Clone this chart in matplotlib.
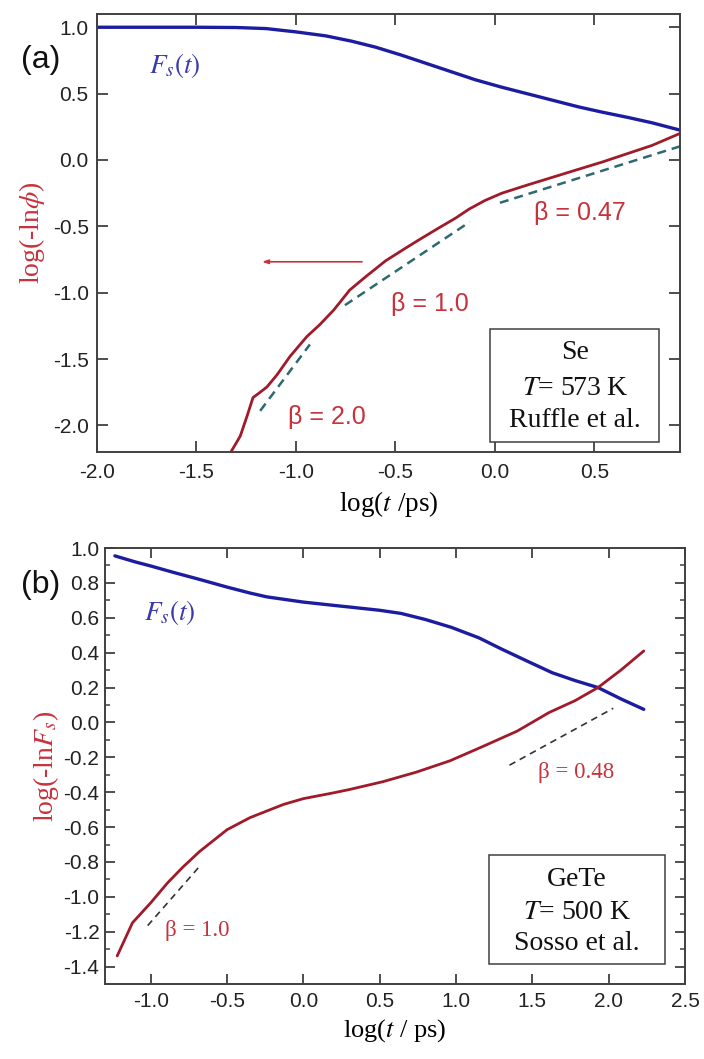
import numpy as np
import matplotlib
matplotlib.use("Agg")
import matplotlib.pyplot as plt
from matplotlib.patches import Rectangle

plt.rcParams["font.family"] = ["Liberation Sans", "DejaVu Sans"]
plt.rcParams["mathtext.fontset"] = "stix"

# ---------------- panel (a): Se, T = 573 K ----------------
a_fs_x = [-2.0, -1.75, -1.5, -1.3, -1.15, -1.0, -0.85, -0.72, -0.6, -0.47, -0.35,
          -0.22, -0.1, 0.03, 0.16, 0.29, 0.42, 0.54, 0.67, 0.79, 0.93]
a_fs_y = [1.0, 1.0, 1.0, 0.998, 0.99, 0.965, 0.935, 0.895, 0.85, 0.79, 0.73,
          0.665, 0.605, 0.55, 0.50, 0.45, 0.40, 0.36, 0.32, 0.28, 0.225]

a_ln_x = [-1.327, -1.28, -1.246, -1.216, -1.18, -1.146, -1.096, -1.03, -0.945, -0.88,
          -0.81, -0.73, -0.65, -0.55, -0.45, -0.38, -0.28, -0.2, -0.13, -0.05,
          0.035, 0.16, 0.29, 0.42, 0.54, 0.67, 0.79, 0.93]
a_ln_y = [-2.2, -2.08, -1.93, -1.79, -1.75, -1.71, -1.62, -1.48, -1.33, -1.24,
          -1.13, -0.98, -0.88, -0.76, -0.665, -0.60, -0.51, -0.44, -0.37, -0.305,
          -0.25, -0.19, -0.13, -0.07, -0.015, 0.05, 0.11, 0.20]

# stretched-exponent guide lines: (beta, x_start, x_end, y at segment centre)
a_beta = [2.0, 1.0, 0.47]
a_beta_x0 = [-1.18, -0.754, 0.025]
a_beta_x1 = [-0.93, -0.126, 0.93]
a_beta_yc = [-1.64, -0.78, -0.11]
a_beta_text = ["β = 2.0", "β = 1.0", "β = 0.47"]
a_beta_tx = [-0.844, -0.327, 0.427]
a_beta_ty = [-1.94, -1.083, -0.398]

a_xticks = [-2.0, -1.5, -1.0, -0.5, 0.0, 0.5]
a_yticks = [-2.0, -1.5, -1.0, -0.5, 0.0, 0.5, 1.0]
a_box_lines = ["Se", "$T$= 573 K", "Ruffle et al."]

# ---------------- panel (b): GeTe, T = 500 K ----------------
b_fs_x = [-1.235, -1.1, -1.0, -0.85, -0.68, -0.5, -0.35, -0.24, 0.0, 0.19, 0.32,
          0.5, 0.64, 0.8, 0.97, 1.15, 1.30, 1.47, 1.63, 1.78, 1.93, 2.08, 2.23]
b_fs_y = [0.955, 0.92, 0.897, 0.86, 0.82, 0.776, 0.742, 0.72, 0.69, 0.672, 0.66,
          0.643, 0.625, 0.59, 0.545, 0.485, 0.42, 0.35, 0.285, 0.24, 0.20, 0.135, 0.075]

b_ln_x = [-1.22, -1.12, -1.0, -0.89, -0.79, -0.68, -0.5, -0.35, -0.13, 0.0, 0.19,
          0.30, 0.52, 0.74, 0.96, 1.17, 1.40, 1.61, 1.78, 1.93, 2.08, 2.23]
b_ln_y = [-1.339, -1.149, -1.034, -0.92, -0.83, -0.74, -0.615, -0.546, -0.47, -0.437, -0.405,
          -0.385, -0.34, -0.285, -0.22, -0.14, -0.05, 0.057, 0.125, 0.20, 0.30, 0.41]

b_beta = [1.0, 0.48]
b_beta_x0 = [-1.02, 1.35]
b_beta_x1 = [-0.68, 2.03]
b_beta_yc = [-0.995, -0.082]
b_beta_text = ["β = 1.0", "β = 0.48"]
b_beta_tx = [-0.698, 1.789]
b_beta_ty = [-1.195, -0.287]

b_xticks = [-1.0, -0.5, 0.0, 0.5, 1.0, 1.5, 2.0, 2.5]
b_yticks = [-1.4, -1.2, -1.0, -0.8, -0.6, -0.4, -0.2, 0.0, 0.2, 0.4, 0.6, 0.8, 1.0]
b_box_lines = ["GeTe", "$T$= 500 K", "Sosso et al."]

BLUE = "#1c1ca0"
RED = "#a01a2a"
RED_TXT = "#c8323c"
FS_TXT = "#3a3aa8"
TEAL = "#2d6a70"
FRAME = "#404040"
SERIF = ["Liberation Serif", "DejaVu Serif"]


def guide(ax, beta, x0, x1, yc, **kw):
    xc = 0.5 * (x0 + x1)
    xs = np.array([x0, x1])
    ax.plot(xs, yc + beta * (xs - xc), **kw)


def frame(ax, major_len):
    for s in ax.spines.values():
        s.set_color(FRAME)
        s.set_linewidth(1.4)
    ax.tick_params(which="major", direction="in", length=major_len, width=1.3,
                   color=FRAME, top=True, right=True, labelsize=15,
                   labelcolor="#222222")


fig = plt.figure(figsize=(7.04, 10.59), dpi=100)

# ---- (a)
axa = fig.add_axes([0.1378, 0.5732, 0.8281, 0.4136])
axa.plot(a_fs_x, a_fs_y, color=BLUE, lw=2.4, solid_capstyle="round", solid_joinstyle="round")
axa.plot(a_ln_x, a_ln_y, color=RED, lw=2.0, solid_capstyle="round", solid_joinstyle="round")
for b, x0, x1, yc in zip(a_beta, a_beta_x0, a_beta_x1, a_beta_yc):
    guide(axa, b, x0, x1, yc, color=TEAL, lw=1.8, dashes=(3.6, 2.4))
for t, tx, ty in zip(a_beta_text, a_beta_tx, a_beta_ty):
    axa.text(tx, ty, t, color=RED_TXT, fontsize=18, ha="center", va="center")
axa.annotate("", xy=(-1.171, -0.767), xytext=(-0.668, -0.767),
             arrowprops=dict(arrowstyle="-|>,head_length=0.35,head_width=0.12",
                             color=RED_TXT, lw=1.2, shrinkA=0, shrinkB=0))
axa.text(-1.61, 0.714, "$F_s(t)$", color=FS_TXT, fontsize=19.5,
         ha="center", va="center")
axa.set_xlim(-2.0, 0.93)
axa.set_ylim(-2.2, 1.1)
axa.set_xticks(a_xticks)
axa.set_yticks(a_yticks)
axa.set_xticklabels([f"{v:.1f}" for v in a_xticks])
axa.set_yticklabels([f"{v:.1f}" for v in a_yticks])
frame(axa, 8)
axa.tick_params(axis="x", pad=8)
axa.tick_params(axis="y", pad=6)
axa.set_xlabel("log($t$ /ps)", family=SERIF, fontsize=19.5, labelpad=5)
axa.set_ylabel("log(-ln$\\phi$)", family=SERIF, fontsize=20, color=RED_TXT, labelpad=4)
axa.add_patch(Rectangle((0.674, 0.0228), 0.290, 0.258, transform=axa.transAxes,
                        fill=True, facecolor="white", edgecolor=FRAME, lw=1.1, zorder=5))
for line, yf in zip(a_box_lines, [0.226, 0.146, 0.073]):
    axa.text(0.82, yf, line, transform=axa.transAxes, family=SERIF, fontsize=20,
             ha="center", va="center", color="#111111", zorder=6)
fig.text(0.058, 0.9433, "(a)", fontsize=23, ha="center", va="center", color="#111111")

# ---- (b)
axb = fig.add_axes([0.1491, 0.0708, 0.8239, 0.4117])
axb.plot(b_fs_x, b_fs_y, color=BLUE, lw=2.4, solid_capstyle="round", solid_joinstyle="round")
axb.plot(b_ln_x, b_ln_y, color=RED, lw=2.0, solid_capstyle="round", solid_joinstyle="round")
for b, x0, x1, yc in zip(b_beta, b_beta_x0, b_beta_x1, b_beta_yc):
    guide(axb, b, x0, x1, yc, color="#333333", lw=1.2, dashes=(4, 3))
for t, tx, ty in zip(b_beta_text, b_beta_tx, b_beta_ty):
    axb.text(tx, ty, t, color=RED_TXT, family=SERIF, fontsize=16.5, ha="center", va="center")
axb.text(-0.875, 0.63, "$F_s(t)$", color=FS_TXT, fontsize=19.5, ha="center", va="center")
axb.set_xlim(-1.3, 2.5)
axb.set_ylim(-1.5, 1.0)
axb.set_xticks(b_xticks)
axb.set_yticks(b_yticks)
axb.set_xticklabels([f"{v:.1f}" for v in b_xticks])
axb.set_yticklabels([f"{v:.1f}" for v in b_yticks])
axb.set_yticks(np.arange(-1.5, 1.01, 0.1), minor=True)
frame(axb, 7)
axb.tick_params(which="minor", axis="y", direction="in", length=3.5, width=1.1,
                color=FRAME, left=True, right=True)
axb.tick_params(axis="x", pad=6)
axb.tick_params(axis="y", pad=4)
axb.set_xlabel("log($t$ / ps)", family=SERIF, fontsize=19, labelpad=4)
axb.set_ylabel("log(-ln$F_s$)", family=SERIF, fontsize=20, color=RED_TXT, labelpad=2)
axb.add_patch(Rectangle((0.662, 0.0459), 0.3035, 0.250, transform=axb.transAxes,
                        fill=True, facecolor="white", edgecolor=FRAME, lw=1.1, zorder=5))
for line, yf in zip(b_box_lines, [0.239, 0.165, 0.094]):
    axb.text(0.814, yf, line, transform=axb.transAxes, family=SERIF, fontsize=20,
             ha="center", va="center", color="#111111", zorder=6)
fig.text(0.058, 0.4476, "(b)", fontsize=23, ha="center", va="center", color="#111111")

fig.savefig("out.png", dpi=100)
